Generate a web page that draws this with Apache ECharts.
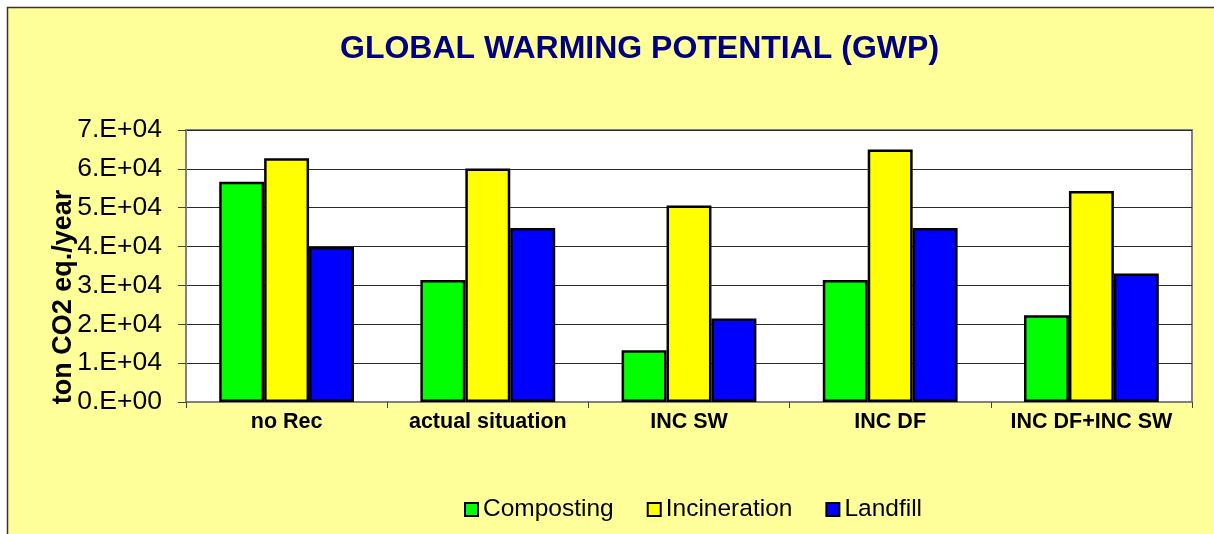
<!DOCTYPE html>
<html>
<head>
<meta charset="utf-8">
<script src="https://cdn.jsdelivr.net/npm/echarts@6/dist/echarts.min.js"></script>
<style>
  html, body { margin: 0; padding: 0; background: #ffffff; }
  #chart { width: 1214px; height: 534px; }
</style>
</head>
<body>
<div id="chart"></div>
<script>
// Global warming potential of each scenario, ton CO2 eq./year
const scenarios = ['no Rec', 'actual situation', 'INC SW', 'INC DF', 'INC DF+INC SW'];
const composting = [56700, 31400, 13300, 31400, 22300];
const incineration = [62700, 60100, 50600, 65000, 54300];
const landfill = [39900, 44800, 21500, 44800, 33100];
const yTickLabels = ['0.E+00', '1.E+04', '2.E+04', '3.E+04', '4.E+04', '5.E+04', '6.E+04', '7.E+04'];

const FONT = '"Liberation Sans", Arial, sans-serif';

const barStyle = (color) => ({ color: color, borderColor: '#000000', borderWidth: 2.5 });

const chart = echarts.init(document.getElementById('chart'), null, { renderer: 'canvas' });

chart.setOption({
  backgroundColor: 'transparent',
  animation: false,
  graphic: [{
    type: 'rect',
    z: -100,
    silent: true,
    shape: { x: 7.5, y: 7.5, width: 1400, height: 700 },
    style: { fill: '#FFFF99', stroke: '#333333', lineWidth: 1.5 }
  }],
  title: {
    text: 'GLOBAL WARMING POTENTIAL (GWP)',
    left: 335,
    top: 28,
    textStyle: { fontFamily: FONT, fontSize: 32, fontWeight: 'bold', color: '#000080' }
  },
  legend: {
    left: 459,
    top: 492,
    icon: 'rect',
    itemWidth: 13,
    itemHeight: 13,
    itemGap: 33,
    textStyle: { fontFamily: FONT, fontSize: 24.5, color: '#000000' },
    data: ['Composting', 'Incineration', 'Landfill']
  },
  grid: {
    left: 186,
    right: 22,
    top: 130,
    bottom: 132,
    show: true,
    backgroundColor: '#ffffff',
    borderColor: '#808080',
    borderWidth: 2
  },
  xAxis: {
    type: 'category',
    data: scenarios,
    axisLine: { lineStyle: { color: '#808080', width: 2 } },
    axisTick: { show: true, length: 6, lineStyle: { color: '#404040' } },
    axisLabel: {
      interval: 0,
      hideOverlap: false,
      margin: 9,
      fontFamily: FONT,
      fontSize: 21.5,
      fontWeight: 'bold',
      color: '#000000'
    }
  },
  yAxis: {
    type: 'value',
    min: 0,
    max: 70000,
    interval: 10000,
    name: 'ton CO2 eq./year',
    nameLocation: 'middle',
    nameGap: 109,
    nameMoveOverlap: false,
    nameTextStyle: {
      fontFamily: FONT,
      fontSize: 27,
      fontWeight: 'bold',
      color: '#000000',
      padding: [0, 62, 0, 0]
    },
    axisLine: { show: true, lineStyle: { color: '#808080', width: 2 } },
    axisTick: { show: true, length: 8, lineStyle: { color: '#404040' } },
    splitLine: { show: true, lineStyle: { color: '#2a2a2a', width: 1 } },
    axisLabel: {
      margin: 24,
      fontFamily: FONT,
      fontSize: 26.5,
      color: '#000000',
      formatter: (v) => yTickLabels[Math.round(v / 10000)]
    }
  },
  series: [
    { name: 'Composting', type: 'bar', data: composting, itemStyle: barStyle('#00FF00'), barGap: '0%', barCategoryGap: '33%' },
    { name: 'Incineration', type: 'bar', data: incineration, itemStyle: barStyle('#FFFF00'), barGap: '0%', barCategoryGap: '33%' },
    { name: 'Landfill', type: 'bar', data: landfill, itemStyle: barStyle('#0000FF'), barGap: '0%', barCategoryGap: '33%' }
  ]
});
</script>
</body>
</html>
